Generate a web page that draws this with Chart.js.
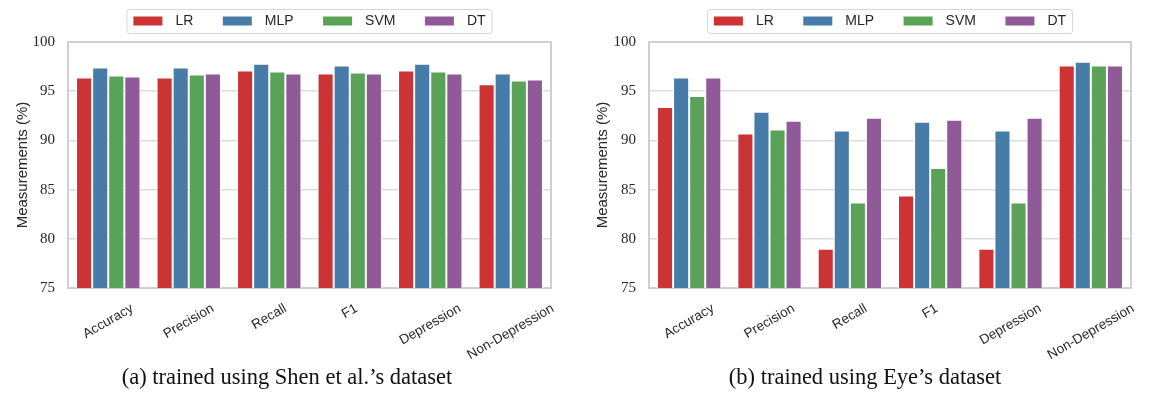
<!DOCTYPE html>
<html>
<head>
<meta charset="utf-8">
<script src="https://cdn.jsdelivr.net/npm/chart.js@4/dist/chart.umd.min.js"></script>
<style>
  body { margin: 0; background: #fff; width: 1152px; height: 413px; overflow: hidden; position: relative; }
  canvas { position: absolute; top: 0; }
  .cap { position: absolute; top: 364px; font: 22.5px "Liberation Serif", serif; color: #111; white-space: nowrap; transform: translateX(-50%); }
</style>
</head>
<body>
<canvas id="chartA" width="580" height="365" style="left:0"></canvas>
<canvas id="chartB" width="572" height="365" style="left:580px"></canvas>
<div class="cap" style="left:287px">(a) trained using Shen et al.’s dataset</div>
<div class="cap" style="left:865px">(b) trained using Eye’s dataset</div>
<script>
const categories = ["Accuracy", "Precision", "Recall", "F1", "Depression", "Non-Depression"];
const models = ["LR", "MLP", "SVM", "DT"];
const colors = ["#CB3335", "#477CA8", "#59A257", "#905998"];
const yTicks = [75, 80, 85, 90, 95, 100];

// (a) Shen et al.'s dataset
const shenLR = [96.4, 96.4, 97.1, 96.8, 97.1, 95.7];
const shenMLP = [97.4, 97.4, 97.8, 97.6, 97.8, 96.8];
const shenSVM = [96.6, 96.7, 97.0, 96.9, 97.0, 96.1];
const shenDT = [96.5, 96.8, 96.8, 96.8, 96.8, 96.2];

// (b) Eye's dataset
const eyeLR = [93.4, 90.7, 79.0, 84.4, 79.0, 97.6];
const eyeMLP = [96.4, 92.9, 91.0, 91.9, 91.0, 98.0];
const eyeSVM = [94.5, 91.1, 83.7, 87.2, 83.7, 97.6];
const eyeDT = [96.4, 92.0, 92.3, 92.1, 92.3, 97.6];

const textColor = "#262626";

// frame around plot + boxed legend + centred rotated x labels
const decor = {
  id: "decor",
  beforeDatasetsDraw(chart) {
    const { ctx, chartArea: a } = chart;
    ctx.save();
    ctx.strokeStyle = "#cfcfcf";
    ctx.lineWidth = 2;
    ctx.strokeRect(a.left, a.top, a.right - a.left, a.bottom - a.top);
    ctx.restore();
  },
  afterDraw(chart) {
    const { ctx, chartArea: a } = chart;
    ctx.save();
    // legend
    ctx.font = '14px "Liberation Sans", Arial, sans-serif';
    const sw = 29, gap = 13, colSp = 29.5;
    const ds = chart.data.datasets;
    const widths = ds.map((d) => sw + gap + ctx.measureText(d.label).width);
    const total = widths.reduce((s, w) => s + w, 0) + colSp * (ds.length - 1);
    let x = (a.left + a.right) / 2 - total / 2;
    ctx.strokeStyle = "#d6d6d6";
    ctx.lineWidth = 1;
    ctx.beginPath();
    ctx.roundRect(x - 6.5, 9.5, total + 13, 24, 3);
    ctx.stroke();
    ctx.textBaseline = "middle";
    ds.forEach((d, i) => {
      ctx.fillStyle = d.backgroundColor;
      ctx.fillRect(x, 16.5, sw, 9);
      ctx.fillStyle = textColor;
      ctx.fillText(d.label, x + sw + gap, 21.5);
      x += widths[i] + colSp;
    });
    // x labels
    ctx.font = '13.5px "Liberation Sans", Arial, sans-serif';
    ctx.textAlign = "center";
    const xs = chart.scales.x;
    const ang = Math.PI / 6;
    chart.data.labels.forEach((lab, i) => {
      const w = ctx.measureText(lab).width;
      const h = 15;
      const bh = w * Math.sin(ang) + h * Math.cos(ang);
      const cx = xs.getPixelForValue(i);
      const cy = a.bottom + 13 + bh / 2;
      ctx.save();
      ctx.translate(cx, cy);
      ctx.rotate(-ang);
      ctx.fillStyle = textColor;
      ctx.fillText(lab, 0, 0);
      ctx.restore();
    });
    ctx.restore();
  },
};

function makeChart(id, series, yWidth, padRight) {
  return new Chart(document.getElementById(id), {
    type: "bar",
    data: {
      labels: categories,
      datasets: models.map((m, i) => ({
        label: m,
        data: series[i],
        backgroundColor: colors[i],
        borderColor: "#ffffff",
        borderWidth: 1,
        borderSkipped: false,
        categoryPercentage: 0.8,
        barPercentage: 1.0,
      })),
    },
    options: {
      responsive: false,
      animation: false,
      devicePixelRatio: 1,
      layout: { padding: { top: 42, right: padRight, left: 0, bottom: 0 } },
      plugins: { legend: { display: false }, tooltip: { enabled: false } },
      scales: {
        x: {
          grid: { display: false },
          border: { display: false },
          ticks: { display: false },
          afterFit: (s) => { s.height = 77; },
        },
        y: {
          min: 75,
          max: 100,
          afterBuildTicks: (s) => { s.ticks = yTicks.map((v) => ({ value: v })); },
          afterFit: (s) => { s.width = yWidth; },
          grid: { color: "#dcdcdc", lineWidth: 1.5, drawTicks: false },
          border: { display: false },
          ticks: {
            padding: 13,
            color: textColor,
            font: { family: '"Liberation Serif", "Times New Roman", serif', size: 15 },
          },
          title: {
            display: true,
            text: "Measurements (%)",
            color: textColor,
            padding: { top: 14, bottom: 0 },
            font: { family: '"Liberation Sans", Arial, sans-serif', size: 15 },
          },
        },
      },
    },
    plugins: [decor],
  });
}

makeChart("chartA", [shenLR, shenMLP, shenSVM, shenDT], 68, 29);
makeChart("chartB", [eyeLR, eyeMLP, eyeSVM, eyeDT], 69, 21);
</script>
</body>
</html>
